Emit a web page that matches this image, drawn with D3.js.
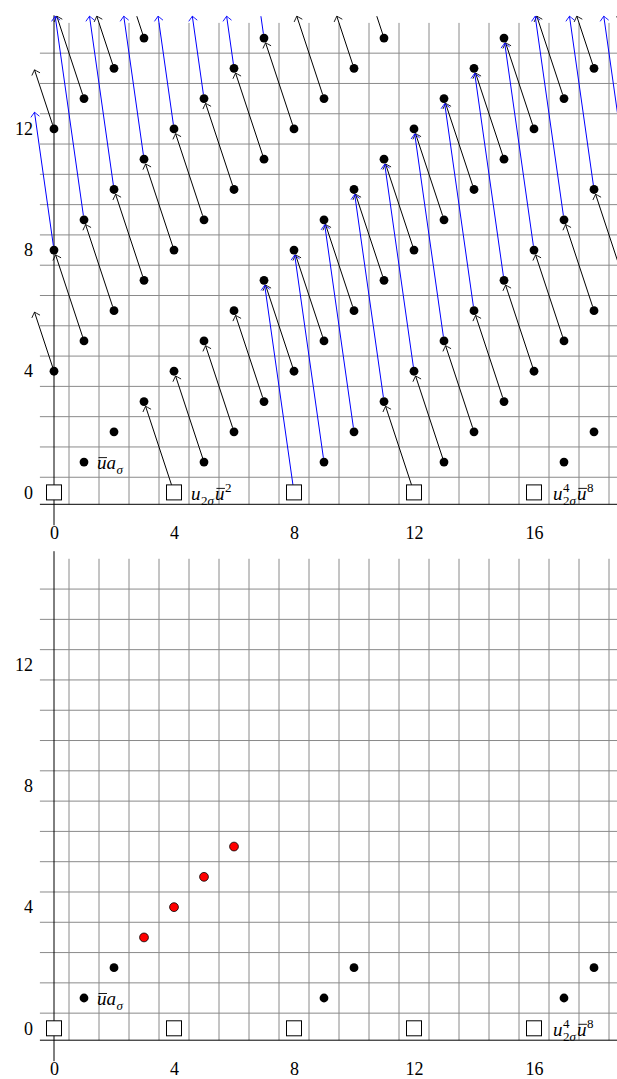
<!DOCTYPE html>
<meta charset="utf-8">
<script src="https://cdn.jsdelivr.net/npm/d3@7/dist/d3.min.js"></script>
<style>
  body { margin: 0; background: #fff; }
</style>
<div id="chart"></div>
<script>

var FONT = "'Liberation Serif', 'Times New Roman', serif";

// tick labels
var xTicks = [0, 4, 8, 12, 16],
    yTicks = [0, 4, 8, 12];

// boxes sit on filtration 0 at these stems
var boxCols = [0, 4, 8, 12, 16];

// top chart: dots, one list of stems per filtration 1..15
var dotRows = [
  [],
  [1, 5, 9, 13, 17],
  [2, 6, 10, 14, 18],
  [3, 7, 11, 15, 19],
  [0, 4, 8, 12, 16],
  [1, 5, 9, 13, 17],
  [2, 6, 10, 14, 18],
  [3, 7, 11, 15, 19],
  [0, 4, 8, 12, 16],
  [1, 5, 9, 13, 17],
  [2, 6, 10, 14, 18],
  [3, 7, 11, 15, 19],
  [0, 4, 8, 12, 16],
  [1, 5, 9, 13, 17],
  [2, 6, 10, 14, 18],
  [3, 7, 11, 15, 19]
];

// d3 differentials (black), sources
var d3Sources = [
  [0,12],[1,13],[2,14],[3,15],
  [0,4],[1,5],[2,6],[3,7],[4,8],[5,9],[6,10],[7,11],[8,12],[9,13],[10,14],[11,15],
  [4,0],[5,1],[6,2],[7,3],[8,4],[9,5],[10,6],[11,7],[12,8],[13,9],[14,10],[15,11],[16,12],[17,13],[18,14],[19,15],
  [12,0],[13,1],[14,2],[15,3],[16,4],[17,5],[18,6],[19,7]
];
var d3Step = [-1, 3];

// d7 differentials (blue), sources
var d7Sources = [
  [0,8],[1,9],[2,10],[3,11],[4,12],[5,13],[6,14],[7,15],
  [8,0],[9,1],[10,2],[11,3],[12,4],[13,5],[14,6],[15,7],[16,8],[17,9],[18,10],[19,11]
];
var d7Step = [-1, 7];

// bottom chart
var survivorDots = [[1,1],[2,2],[9,1],[10,2],[17,1],[18,2]];
var redDots = [[3,3],[4,4],[5,5],[6,6]];

var W = 617, H = 1079;
var xMinView = -0.65, yMaxView = 15.72;   // arrows are cut at these

var svg = d3.select("#chart").append("svg")
    .attr("width", W)
    .attr("height", H);

var x = d3.scaleLinear().domain([0, 16]).range([54, 534]);

function makeY(offset) {
  return d3.scaleLinear().domain([0, 12]).range([offset + 492.4, offset + 128.9]);
}

function drawFrame(g, y) {
  var axisY = y(0) + 11.9;
  // grid
  g.selectAll(".vgrid")
    .data(d3.range(0, 20))
    .enter().append("line")
      .attr("x1", function(d) { return x(d + 0.5); })
      .attr("x2", function(d) { return x(d + 0.5); })
      .attr("y1", y(15.5))
      .attr("y2", axisY)
      .attr("stroke", "#8a8a8a")
      .attr("stroke-width", 1);
  g.selectAll(".hgrid")
    .data(d3.range(0, 15))
    .enter().append("line")
      .attr("x1", x(-0.47))
      .attr("x2", W)
      .attr("y1", function(d) { return y(d + 0.5); })
      .attr("y2", function(d) { return y(d + 0.5); })
      .attr("stroke", "#8a8a8a")
      .attr("stroke-width", 1);

  // axis lines
  g.append("line")
    .attr("x1", x(-0.47)).attr("x2", W)
    .attr("y1", axisY).attr("y2", axisY)
    .attr("stroke", "#000").attr("stroke-width", 1);
  g.append("line")
    .attr("x1", x(0)).attr("x2", x(0))
    .attr("y1", y(15.75)).attr("y2", axisY + 21)
    .attr("stroke", "#000").attr("stroke-width", 1);

  // tick labels
  var ax = g.append("g")
    .attr("transform", "translate(0," + axisY + ")")
    .call(d3.axisBottom(x).tickValues(xTicks).tickSize(0).tickPadding(22));
  var ay = g.append("g")
    .attr("transform", "translate(" + x(0) + ",0)")
    .call(d3.axisLeft(y).tickValues(yTicks).tickSize(0).tickPadding(21));
  [ax, ay].forEach(function(a) {
    a.select(".domain").remove();
    a.attr("font-size", 18).attr("font-family", FONT);
    a.selectAll("text")
      .attr("fill", "#000")
      .attr("font-family", FONT)
      .attr("font-size", 18);
  });
}

function drawBoxes(g, y) {
  g.selectAll(".box")
    .data(boxCols)
    .enter().append("rect")
      .attr("x", function(d) { return x(d) - 7.5; })
      .attr("y", y(0) - 7.5)
      .attr("width", 15)
      .attr("height", 15)
      .attr("fill", "#fff")
      .attr("stroke", "#000")
      .attr("stroke-width", 1);
}

function drawDots(g, y, pts, fill, stroke) {
  g.selectAll(null)
    .data(pts)
    .enter().append("circle")
      .attr("cx", function(d) { return x(d[0]); })
      .attr("cy", function(d) { return y(d[1]); })
      .attr("r", 4.4)
      .attr("fill", fill)
      .attr("stroke", stroke || "none")
      .attr("stroke-width", 0.8);
}

function arrowHead(g, px, py, ux, uy, color) {
  var nx = -uy, ny = ux, back = 4.6, half = 4.3;
  var lx = px - back * ux + half * nx, ly = py - back * uy + half * ny;
  var rx = px - back * ux - half * nx, ry = py - back * uy - half * ny;
  var clx = px - 0.9 * ux + 0.9 * nx, cly = py - 0.9 * uy + 0.9 * ny;
  var crx = px - 0.9 * ux - 0.9 * nx, cry = py - 0.9 * uy - 0.9 * ny;
  g.append("path")
    .attr("d", "M" + lx + "," + ly + " Q" + clx + "," + cly + " " + px + "," + py +
               " Q" + crx + "," + cry + " " + rx + "," + ry)
    .attr("fill", "none")
    .attr("stroke", color)
    .attr("stroke-width", 0.9);
}

function drawDiff(g, y, src, step, color) {
  var tgt = [src[0] + step[0], src[1] + step[1]];
  var t = 1;
  if (tgt[0] < xMinView) t = Math.min(t, (src[0] - xMinView) / (src[0] - tgt[0]));
  if (tgt[1] > yMaxView) t = Math.min(t, (yMaxView - src[1]) / (tgt[1] - src[1]));
  var cut = t < 1;
  var sx = x(src[0]), sy = y(src[1]);
  var ex = x(src[0] + t * step[0]), ey = y(src[1] + t * step[1]);
  var len = Math.hypot(ex - sx, ey - sy);
  var ux = (ex - sx) / len, uy = (ey - sy) / len;
  var isBox = src[1] === 0;
  var s0 = isBox ? 7.5 / Math.abs(uy) : 4.3;
  var tipX = cut ? ex : ex - 5 * ux, tipY = cut ? ey : ey - 5 * uy;
  g.append("line")
    .attr("x1", sx + s0 * ux).attr("y1", sy + s0 * uy)
    .attr("x2", tipX).attr("y2", tipY)
    .attr("stroke", color)
    .attr("stroke-width", 1);
  if (!cut || len > 30) arrowHead(g, tipX, tipY, ux, uy, color);
}

// label built of pieces: {t, it, bar} or {sup, sub}
function mathLabel(g, x0, y0, parts) {
  var cx = x0;
  parts.forEach(function(p) {
    if (p.t) {
      var t = g.append("text")
        .attr("x", cx).attr("y", y0)
        .attr("font-size", 19)
        .attr("font-family", FONT)
        .style("font-style", p.it ? "italic" : "normal")
        .text(p.t);
      var w = t.node().getComputedTextLength();
      if (p.bar) {
        g.append("line")
          .attr("x1", cx + 1.5).attr("x2", cx + w + 0.5)
          .attr("y1", y0 - 11.5).attr("y2", y0 - 11.5)
          .attr("stroke", "#000").attr("stroke-width", 0.9);
      }
      cx += w;
    } else {
      var w = 0;
      [["sup", -8], ["sub", 5]].forEach(function(s) {
        if (!p[s[0]]) return;
        var t = g.append("text")
          .attr("x", cx + 0.5).attr("y", y0 + s[1])
          .attr("font-size", 13)
          .attr("font-family", FONT);
        p[s[0]].forEach(function(q) {
          t.append("tspan").style("font-style", q.it ? "italic" : "normal").text(q.t);
        });
        w = Math.max(w, t.node().getComputedTextLength());
      });
      cx += w + 1.5;
    }
  });
}

var labelUA = [{t: "u", it: true, bar: true}, {t: "a", it: true}, {sub: [{t: "σ", it: true}]}];
var labelU2 = [{t: "u", it: true}, {sub: [{t: "2"}, {t: "σ", it: true}]},
               {t: "u", it: true, bar: true}, {sup: [{t: "2"}]}];
var labelU8 = [{t: "u", it: true}, {sup: [{t: "4"}], sub: [{t: "2"}, {t: "σ", it: true}]},
               {t: "u", it: true, bar: true}, {sup: [{t: "8"}]}];

// ---- top chart
var yTop = makeY(0);
var gTop = svg.append("g");
drawFrame(gTop, yTop);
var gArrows = gTop.append("g");
d3Sources.forEach(function(s) { drawDiff(gArrows, yTop, s, d3Step, "#000"); });
d7Sources.forEach(function(s) { drawDiff(gArrows, yTop, s, d7Step, "#0000ff"); });
drawBoxes(gTop, yTop);
var topDots = [];
dotRows.forEach(function(row, j) { row.forEach(function(i) { topDots.push([i, j]); }); });
drawDots(gTop, yTop, topDots, "#000");
mathLabel(gTop, x(1) + 13, yTop(1) + 7, labelUA);
mathLabel(gTop, x(4) + 17, yTop(0) + 7.5, labelU2);
mathLabel(gTop, x(16) + 19, yTop(0) + 7.5, labelU8);

// ---- bottom chart
var yBot = makeY(535.9);
var gBot = svg.append("g");
drawFrame(gBot, yBot);
drawBoxes(gBot, yBot);
drawDots(gBot, yBot, survivorDots, "#000");
drawDots(gBot, yBot, redDots, "#ff0000", "#000");
mathLabel(gBot, x(1) + 13, yBot(1) + 7, labelUA);
mathLabel(gBot, x(16) + 19, yBot(0) + 7.5, labelU8);

</script>
